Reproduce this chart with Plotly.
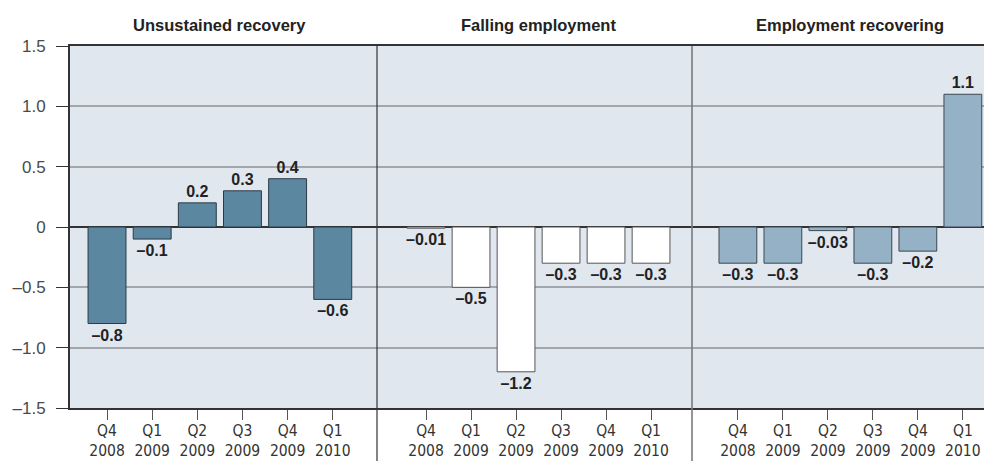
import plotly.graph_objects as go
from plotly.subplots import make_subplots

categories = ["Q4<br>2008", "Q1<br>2009", "Q2<br>2009", "Q3<br>2009", "Q4<br>2009", "Q1<br>2010"]
panel_titles = ["Unsustained recovery", "Falling employment", "Employment recovering"]
unsustained = [-0.8, -0.1, 0.2, 0.3, 0.4, -0.6]
falling = [-0.01, -0.5, -1.2, -0.3, -0.3, -0.3]
recovering = [-0.3, -0.3, -0.03, -0.3, -0.2, 1.1]
y_ticks = [-1.5, -1.0, -0.5, 0, 0.5, 1.0, 1.5]
y_ticktext = ["\u20131.5", "\u20131.0", "\u20130.5", "0", "0.5", "1.0", "1.5"]

fills = ["#5c87a0", "#ffffff", "#95b1c6"]
outlines = ["#2c3a44", "#555555", "#3a4852"]


def fmt(v):
    s = f"{abs(v):g}"
    return ("\u2013" + s) if v < 0 else s


fig = make_subplots(rows=1, cols=3, shared_yaxes=True, horizontal_spacing=0)

series = [unsustained, falling, recovering]
for i, vals in enumerate(series):
    fig.add_trace(
        go.Bar(
            x=categories,
            y=vals,
            text=[fmt(v) for v in vals],
            textposition="outside",
            constraintext="none",
            cliponaxis=False,
            textfont=dict(family="Liberation Sans", size=16, color="#222222", weight="bold"),
            marker=dict(color=fills[i], line=dict(color=outlines[i], width=1)),
            width=0.84,
            showlegend=False,
            hoverinfo="skip",
        ),
        row=1,
        col=i + 1,
    )

W, H = 984, 461
ml, mr, mt, mb = 70, 0, 46, 53
pw = W - ml - mr
edges = [70, 377, 692, 984]
doms = [((edges[i] - ml) / pw, (edges[i + 1] - ml) / pw) for i in range(3)]
ranges = [(-0.82, 5.98), (-1.09, 5.91), (-1.02, 5.47)]

for i in range(3):
    fig.update_xaxes(
        domain=list(doms[i]),
        automargin=False,
        type="category",
        categoryorder="array",
        categoryarray=categories,
        range=list(ranges[i]),
        showgrid=False,
        showline=True,
        linecolor="#333333",
        linewidth=2,
        mirror=True,
        ticks="outside",
        ticklen=10,
        tickcolor="#555555",
        tickwidth=1,
        ticklabelstandoff=-3,
        tickfont=dict(family="DejaVu Sans Condensed, Liberation Sans Narrow, Liberation Sans",
                      size=15.5, color="#333333"),
        fixedrange=True,
        row=1,
        col=i + 1,
    )
    fig.update_yaxes(
        automargin=False,
        range=[-1.5, 1.5],
        tickvals=y_ticks,
        ticktext=y_ticktext,
        showgrid=True,
        gridcolor="#a3a7ac",
        gridwidth=1.5,
        zeroline=True,
        zerolinecolor="#333333",
        zerolinewidth=1.5,
        showline=(i == 0),
        linecolor="#333333",
        linewidth=2,
        ticks="outside" if i == 0 else "",
        ticklen=12,
        tickcolor="#333333",
        tickwidth=1,
        ticklabelstandoff=7,
        tickfont=dict(family="Liberation Sans", size=17, color="#4a4a4a"),
        showticklabels=(i == 0),
        fixedrange=True,
        row=1,
        col=i + 1,
    )

for i, t in enumerate(panel_titles):
    xref = "x" if i == 0 else f"x{i+1}"
    fig.add_annotation(
        x=2.5, xref=xref, y=1, yref="paper", yanchor="bottom", yshift=10,
        text=f"<b>{t}</b>", showarrow=False,
        font=dict(family="Liberation Sans", size=16.5, color="#222222"),
    )

# panel dividers
divider_colors = ["#333333", "#7a7a7a"]
for j, ax in enumerate(["x2", "x3"]):
    fig.add_shape(
        type="line", xref=f"{ax} domain", x0=0, x1=0,
        yref="paper", y0=-mb / (H - mt - mb), y1=1,
        line=dict(color=divider_colors[j], width=1.2 + 0.4 * j),
        layer="above",
    )

fig.update_layout(
    width=W,
    height=H,
    margin=dict(l=ml, r=mr, t=mt, b=mb, autoexpand=False),
    plot_bgcolor="#e1e7ef",
    paper_bgcolor="#ffffff",
    bargap=0.16,
)

fig.write_html(
    "out.html",
    config={"displayModeBar": False},
    post_script="document.body.style.margin='0';document.body.style.overflow='hidden';",
)
